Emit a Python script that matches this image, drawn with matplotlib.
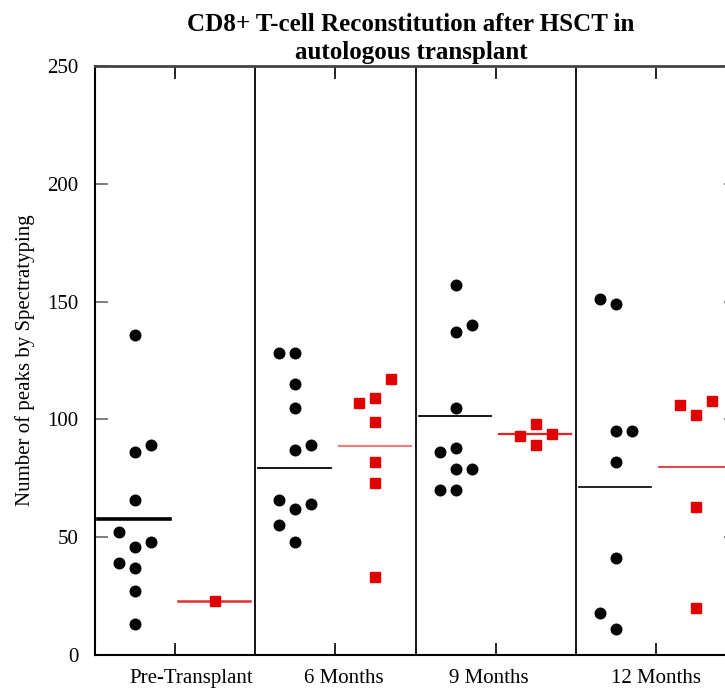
import numpy as np
import matplotlib.pyplot as plt

groups = ["Pre-Transplant", "6 Months", "9 Months", "12 Months"]

# black circles: values and jitter column (-1 left, 0 centre, 1 right)
black_vals = [
    [136, 89, 86, 66, 52, 48, 46, 39, 37, 27, 13],
    [128, 128, 115, 105, 89, 87, 66, 64, 62, 55, 48],
    [157, 140, 137, 105, 88, 86, 79, 79, 70, 70],
    [151, 149, 95, 95, 82, 41, 18, 11],
]
black_cols = [
    [0, 1, 0, 0, -1, 1, 0, -1, 0, 0, 0],
    [-1, 0, 0, 0, 1, 0, -1, 1, 0, -1, 0],
    [0, 1, 0, 0, 0, -1, 0, 1, -1, 0],
    [-1, 0, 0, 1, 0, 0, -1, 0],
]
# red squares
red_vals = [
    [23],
    [117, 107, 109, 99, 82, 73, 33],
    [98, 93, 94, 89],
    [108, 106, 102, 63, 20],
]
red_cols = [
    [0],
    [1, -1, 0, 0, 0, 0, 0],
    [0, -1, 1, 0],
    [1, -1, 0, 0, 0],
]
# group mean lines as drawn
black_means = [57.7, 79.2, 101.6, 71.4]
red_means = [23, 88.8, 93.7, 79.9]

plt.rcParams['font.family'] = ['Liberation Serif', 'DejaVu Serif']

fig = plt.figure(figsize=(7.25, 6.93), dpi=100)
ax = fig.add_axes([95 / 725, 38 / 693, 641 / 725, 589 / 693])

red = '#e00000'
step = 0.1
off = 0.25
black_lw = [2.6, 1.3, 1.3, 1.2]
red_lw = [1.8, 1.6, 1.6, 1.3]
red_line_col = ['#e03030', '#ec8080', '#e82020', '#e83030']

for i in range(len(groups)):
    bx = i - off + step * np.array(black_cols[i])
    ax.plot(bx, black_vals[i], 'o', color='black', markersize=7.6, zorder=3)
    rx = i + off + step * np.array(red_cols[i])
    ax.plot(rx, red_vals[i], 's', color=red, markersize=7.6, zorder=3)
    ax.plot([i - off - 0.23, i - off + 0.22], [black_means[i]] * 2,
            color='black', lw=black_lw[i], zorder=2)
    ax.plot([i + off - 0.23, i + off + 0.22], [red_means[i]] * 2,
            color=red_line_col[i], lw=red_lw[i], zorder=2)

for s in [0.5, 1.5, 2.5]:
    ax.axvline(s, color='black', lw=1.3, zorder=1)

ax.set_xlim(-0.5, 3.5)
ax.set_ylim(0, 250)
ax.set_yticks(np.arange(0, 251, 50))
ax.set_xticks(range(len(groups)))
ax.set_xticklabels([])
label_shift = [0.1, 0.05, -0.04, 0.0]
for i, g in enumerate(groups):
    ax.text(i + label_shift[i], -0.024, g, transform=ax.get_xaxis_transform(),
            ha='center', va='top', fontsize=15)

ax.tick_params(axis='both', direction='in', length=9, width=1.2,
               top=True, right=True, labelsize=15)
ax.tick_params(axis='y', colors='#666666', labelcolor='black', pad=12)
ax.tick_params(axis='x', colors='black')
for side in ['left', 'bottom']:
    ax.spines[side].set_linewidth(1.5)
ax.spines['top'].set_linewidth(2)
ax.spines['top'].set_color('#444444')

ax.set_ylabel("Number of peaks by Spectratyping", fontsize=15, labelpad=9)

fig.text(0.567, 0.981, "CD8+ T-cell Reconstitution after HSCT in\nautologous transplant",
         ha='center', va='top', fontsize=18, fontweight='bold', linespacing=1.28)

fig.savefig("out.png", dpi=100)
